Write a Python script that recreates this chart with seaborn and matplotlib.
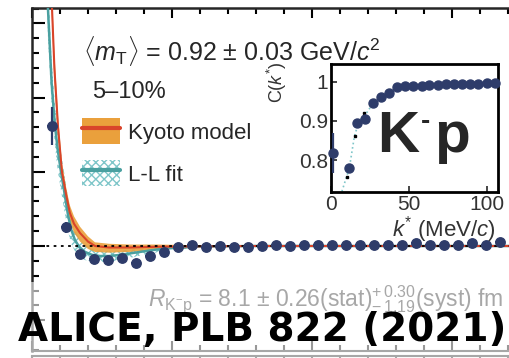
import numpy as np
import pandas as pd
import matplotlib
matplotlib.use("Agg")
import matplotlib.pyplot as plt
import seaborn as sns
from matplotlib.patches import Patch, Rectangle
from matplotlib.lines import Line2D
from matplotlib.legend_handler import HandlerTuple
from matplotlib.ticker import MultipleLocator

# main panel: K-p correlation, 5-10% centrality
main_k = [14, 24, 34, 44, 54, 64, 74, 84, 94, 104, 114, 124, 134, 144, 154, 164, 174,
          184, 194, 204, 214, 224, 234, 244, 254, 264, 274, 284, 294, 304, 314, 324, 334]
main_c = [1.162, 1.025, 0.989, 0.983, 0.981, 0.984, 0.977, 0.986, 0.992, 0.998, 1.001,
          0.999, 1.000, 0.998, 0.999, 1.000, 1.001, 1.000, 1.002, 1.002, 1.001, 1.002,
          1.001, 1.002, 1.002, 1.001, 1.004, 1.002, 1.002, 1.002, 1.004, 1.002, 1.005]
main_err = [0.026, 0.008, 0.004, 0.004, 0.003, 0.003, 0.003, 0.003, 0.003, 0.003, 0.003,
            0.002, 0.002, 0.002, 0.002, 0.002, 0.002, 0.002, 0.002, 0.002, 0.002, 0.002,
            0.002, 0.002, 0.002, 0.002, 0.002, 0.002, 0.002, 0.002, 0.002, 0.002, 0.002]

kyoto_k = [10, 12, 14.3, 16, 18.6, 21.4, 24.3, 27, 30, 34.3, 40, 45, 55, 70, 90, 120, 160, 220, 300, 400]
kyoto_c = [1.70, 1.48, 1.32, 1.24, 1.16, 1.10, 1.07, 1.045, 1.03, 1.0175, 1.006, 1.000,
           0.998, 0.998, 0.999, 0.9995, 1.0, 1.0, 1.0, 1.0]
kyoto_lo = [1.66, 1.45, 1.30, 1.22, 1.145, 1.088, 1.058, 1.034, 1.018, 1.006, 0.996, 0.992,
            0.991, 0.992, 0.995, 0.998, 1.0, 1.0, 1.0, 1.0]
kyoto_hi = [1.74, 1.51, 1.34, 1.26, 1.175, 1.112, 1.08, 1.055, 1.04, 1.026, 1.013, 1.005,
            1.003, 1.002, 1.002, 1.001, 1.0, 1.0, 1.0, 1.0]

ll_k = [9, 11.4, 14, 16.4, 18.5, 20.7, 22.9, 25.7, 28, 30.7, 34, 37.9, 43, 48.6, 55,
        62.9, 70, 77, 88, 98.6, 120, 160, 220, 300, 400]
ll_c = [1.55, 1.32, 1.22, 1.162, 1.128, 1.10, 1.075, 1.042, 1.022, 1.008, 0.998, 0.992,
        0.988, 0.9865, 0.9865, 0.988, 0.990, 0.992, 0.995, 0.997, 0.9993, 1.0, 1.0, 1.0, 1.0]
ll_lo = [1.50, 1.28, 1.19, 1.135, 1.10, 1.075, 1.05, 1.02, 1.003, 0.993, 0.985, 0.981, 0.979,
         0.978, 0.979, 0.981, 0.984, 0.987, 0.991, 0.994, 0.998, 1.0, 1.0, 1.0, 1.0]
ll_hi = [1.60, 1.36, 1.25, 1.19, 1.155, 1.125, 1.10, 1.065, 1.04, 1.022, 1.01, 1.002, 0.996,
         0.994, 0.993, 0.994, 0.995, 0.996, 0.998, 0.999, 1.0, 1.0, 1.0, 1.0, 1.0]

# inset
ins_k = [1.5, 11.8, 16.5, 21.8, 26.8, 32.1, 37.0, 42.6, 47.5, 52.8, 58.2, 63.1, 68.5,
         73.8, 78.9, 84.3, 89.2, 94.6, 100.2, 105.5]
ins_c = [0.819, 0.781, 0.895, 0.906, 0.946, 0.960, 0.971, 0.986, 0.988, 0.990, 0.989,
         0.992, 0.992, 0.993, 0.994, 0.995, 0.995, 0.995, 0.997, 0.997]
ins_err = [0.051, 0.01, 0.006, 0.005, 0.004, 0.003, 0.003, 0.002, 0.002, 0.002, 0.002,
           0.002, 0.002, 0.002, 0.002, 0.002, 0.002, 0.002, 0.002, 0.002]
fit_k = [7, 11.8, 15, 18, 22, 27, 32, 37, 43, 50, 60, 80, 107]
fit_c = [0.72, 0.78, 0.86, 0.90, 0.915, 0.945, 0.96, 0.972, 0.985, 0.989, 0.991, 0.994, 0.997]
model_k = [10.4, 15.4, 21.2]
model_c = [0.756, 0.861, 0.921]

navy = "#2e3c6a"
orange = "#eaa03c"
red = "#d9442a"
teal = "#4aa0a0"
teal_light = "#7fc6c9"

sns.set_style("ticks")
plt.rcParams['font.family'] = ['Liberation Sans', 'DejaVu Sans']
plt.rcParams['mathtext.fontset'] = 'custom'
plt.rcParams['mathtext.rm'] = 'Liberation Sans'
plt.rcParams['mathtext.it'] = 'Liberation Sans:italic'
plt.rcParams['mathtext.bf'] = 'Liberation Sans:bold'
plt.rcParams['hatch.linewidth'] = 1.0

W, H = 510, 358
fig = plt.figure(figsize=(5.10, 3.58), dpi=100)


def fx(px):
    return px / W


def fy(py):
    return 1 - py / H


ax = fig.add_axes([fx(32), fy(351), 400 * 1.4 / W, (351 - 8) / H])
ax.set_xlim(0, 400)
ax.set_ylim(1 - 105 / 742, 1 + 238 / 742)

ax.fill_between(ll_k, ll_lo, ll_hi, facecolor="none", edgecolor=teal_light, hatch="xxxx", lw=0, zorder=1)
ax.fill_between(kyoto_k, kyoto_lo, kyoto_hi, color=orange, lw=0, alpha=0.9, zorder=2)
sns.lineplot(x=ll_k, y=ll_c, ax=ax, color=teal, lw=1.8, sort=False, zorder=3)
sns.lineplot(x=kyoto_k, y=kyoto_c, ax=ax, color=red, lw=1.5, sort=False, zorder=3)
ax.axhline(1.0, color="black", ls=(0, (1.5, 2.5)), lw=1.3, zorder=4)
ax.errorbar(main_k, main_c, yerr=main_err, xerr=3.5, fmt="o", color=navy, ms=6.8,
            elinewidth=1.6, capsize=0, zorder=6)

ax.xaxis.set_major_locator(MultipleLocator(100))
ax.xaxis.set_minor_locator(MultipleLocator(20))
ax.yaxis.set_major_locator(MultipleLocator(0.1))
ax.yaxis.set_minor_locator(MultipleLocator(0.02))
ax.tick_params(which="both", direction="in", top=True, bottom=True, left=True, right=False,
               labelleft=False, labelbottom=False, width=1.5, color="black")
ax.tick_params(axis="y", which="major", length=9.5)
ax.tick_params(axis="y", which="minor", length=5)
ax.tick_params(axis="x", which="major", length=7)
ax.tick_params(axis="x", which="minor", length=4)
for s in ["left", "top"]:
    ax.spines[s].set_linewidth(1.8)
ax.spines["bottom"].set_linewidth(1.5)
ax.spines["right"].set_visible(False)
ax.set_xlabel("")
ax.set_ylabel("")

# panel below (only its top edge shows)
ax2 = fig.add_axes([fx(32), -0.3, 400 * 1.4 / W, fy(356) + 0.3])
ax2.set_xlim(0, 400)
ax2.xaxis.set_major_locator(MultipleLocator(100))
ax2.xaxis.set_minor_locator(MultipleLocator(20))
ax2.tick_params(which="both", direction="in", top=True, bottom=False, left=False,
                labelleft=False, labelbottom=False, width=1.5, length=4)
ax2.spines["top"].set_linewidth(1.5)

leg_h = [(Patch(facecolor=orange, edgecolor="none"), Line2D([], [], color=red, lw=3)),
         (Patch(facecolor="white", edgecolor=teal_light, hatch="xxxx", lw=0),
          Line2D([], [], color=teal, lw=3))]
ax.legend(leg_h, ["Kyoto model", "L-L fit"], handler_map={tuple: HandlerTuple(ndivide=1, pad=0)},
          loc="upper left", bbox_to_anchor=(fx(82), fy(118)), bbox_transform=fig.transFigure,
          frameon=False, fontsize=16, handlelength=1.7, handleheight=1.45, handletextpad=0.35,
          labelspacing=0.7, borderpad=0, borderaxespad=0)

fig.text(fx(83), fy(60), r'$\langle m_{\rm T}\rangle$ = 0.92 $\pm$ 0.03 GeV/$c^{2}$',
         fontsize=18, va="baseline")
fig.text(fx(92), fy(98), "5–10%", fontsize=17, va="baseline")
fig.text(fx(148), fy(306), r'$R_{\rm K^{-}p}$ = 8.1 $\pm$ 0.26(stat)$^{+\,0.30}_{-\,1.19}$(syst) fm',
         fontsize=16.5, va="baseline", zorder=10)

# inset
ax_in = fig.add_axes([fx(331), fy(192), (498 - 331) / W, (192 - 64) / H])
ax_in.set_facecolor("white")
ax_in.set_xlim(0, 107.3)
ax_in.set_ylim(1 - 110.3 / 392, 1 + 17.7 / 392)
sns.lineplot(x=fit_k, y=fit_c, ax=ax_in, color=teal_light, lw=1.2, ls=":", sort=False)
ax_in.plot(model_k, model_c, "s", color="black", ms=2)
ax_in.errorbar(ins_k, ins_c, yerr=ins_err, fmt="o", color=navy, ms=6.5, elinewidth=1.6,
               capsize=0, clip_on=False, zorder=5)
ax_in.set_xticks([0, 50, 100])
ax_in.set_yticks([0.8, 0.9, 1.0])
ax_in.set_yticklabels(["0.8", "0.9", "1"])
ax_in.tick_params(which="both", direction="in", length=4, width=1.2, labelsize=15,
                  labelcolor="#333333", pad=2)
for s in ax_in.spines.values():
    s.set_linewidth(2)
    s.set_color("black")
ax_in.set_ylabel(r'C($k^{*}$)', fontsize=13, color="#333333")
ax_in.yaxis.set_label_coords(-0.25, 0.86)
ax_in.set_xlabel(r'$k^{*}$ (MeV/$c$)', fontsize=16, color="#333333")
ax_in.xaxis.set_label_coords(0.677, -0.17)

# K-p label, small raised dash between the letters
fig.text(fx(377), fy(152), "K", fontsize=42, fontweight="bold", va="baseline", zorder=8)
fig.text(fx(421), fy(129), "-", fontsize=20, fontweight="bold", va="baseline", zorder=8)
fig.text(fx(434), fy(152), "p", fontsize=42, fontweight="bold", va="baseline", zorder=8)

# faded lower part and the big caption
fig.patches.append(Rectangle((0, 0), 1, fy(282), transform=fig.transFigure,
                             facecolor="white", edgecolor="none", alpha=0.6, zorder=50))
fig.text(fx(18), fy(341), "ALICE, PLB 822 (2021)", family="DejaVu Sans", fontweight="bold",
         fontsize=28, va="baseline", color="black", zorder=60)

fig.savefig("out.png", dpi=100)
